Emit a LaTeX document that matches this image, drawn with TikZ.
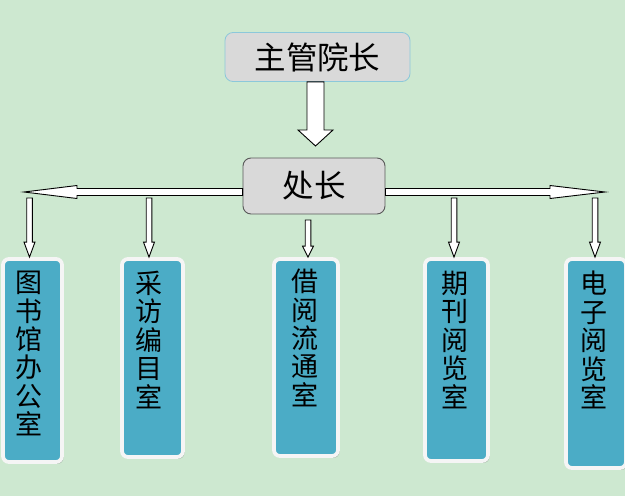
\documentclass[tikz,border=0pt]{standalone}
\usepackage{fontspec}
\newfontfamily\cjk{Noto Sans CJK SC}
\usetikzlibrary{calc,shadows}
\definecolor{bgc}{RGB}{205,232,208}
\definecolor{greyfill}{RGB}{217,217,217}
\definecolor{topborder}{RGB}{140,200,218}
\definecolor{chuborder}{RGB}{89,89,89}
\definecolor{aqua}{RGB}{75,172,198}
\definecolor{whiteborder}{RGB}{245,245,245}
\newcommand\blockarrow[5]{%
  \coordinate (bah) at ($(#2)!#5!(#1)$);
  \draw[arrowbody] ($(#1)!#3!90:(#2)$) -- ($(bah)!#3!90:(#2)$) -- ($(bah)!#4!90:(#2)$)
    -- (#2) -- ($(bah)!#4!-90:(#2)$) -- ($(bah)!#3!-90:(#2)$) -- ($(#1)!#3!-90:(#2)$) -- cycle;}
\begin{document}
\begin{tikzpicture}[x=1pt,y=-1pt,
  arrowbody/.style={fill=white,draw=black,line width=0.9pt,line join=miter},
  topbox/.style={draw=topborder,fill=greyfill,line width=0.8pt,rounded corners=8pt,
    minimum width=185pt,minimum height=49pt,inner sep=0pt,font=\cjk\fontsize{31.5}{34}\selectfont},
  chubox/.style={draw=chuborder,fill=greyfill,line width=0.9pt,rounded corners=8pt,
    minimum width=142pt,minimum height=56pt,inner sep=0pt,font=\cjk\fontsize{31.5}{34}\selectfont},
  deptbox/.style={draw=whiteborder,fill=aqua,line width=3.8pt,rounded corners=6pt,inner sep=0pt,
    drop shadow={shadow xshift=1.5pt,shadow yshift=-1.8pt,fill=black,opacity=0.25}},
  depttext/.style={anchor=north,align=center,inner sep=0pt,font=\cjk\fontsize{27}{28.4}\selectfont}]
\useasboundingbox (0,0) rectangle (625,496);
\fill[bgc] (0,0) rectangle (625,496);

% department boxes
\node[deptbox,minimum width=59pt,minimum height=203pt] (b1) at (32.5,360.5) {};
\node[deptbox,minimum width=61pt,minimum height=198pt] (b2) at (152.5,358) {};
\node[deptbox,minimum width=64pt,minimum height=197pt] (b3) at (306,357.5) {};
\node[deptbox,minimum width=63pt,minimum height=202pt] (b4) at (456.5,360) {};
\node[deptbox,minimum width=60pt,minimum height=209pt] (b5) at (596,363.5) {};

\node[depttext] (t1) at (29.5,271) {图\\书\\馆\\办\\公\\室};
\node[depttext] (t2) at (149,271) {采\\访\\编\\目\\室};
\node[depttext] (t3) at (305,269) {借\\阅\\流\\通\\室};
\node[depttext] (t4) at (454.5,271) {期\\刊\\阅\\览\\室};
\node[depttext] (t5) at (593.5,271) {电\\子\\阅\\览\\室};

% top boxes
\node[topbox] (top) at (317.5,57) {主管院长};
\node[chubox] (chu) at (314,186) {处长};

% main down arrow
\coordinate (dtip) at (315.5,146);
\coordinate (dstart) at (top.south -| dtip);
\blockarrow{dstart}{dtip}{8.5pt}{17.5pt}{16pt}

% horizontal arrows
\coordinate (lstart) at ($(chu.west)+(0,6)$);
\coordinate (ltip) at (24,192);
\blockarrow{lstart}{ltip}{3.5pt}{6.5pt}{53pt}
\coordinate (rstart) at ($(chu.east)+(0,6)$);
\coordinate (rtip) at (605,192);
\blockarrow{rstart}{rtip}{3.5pt}{6.5pt}{55pt}

% small down arrows
\coordinate (s1) at (29.5,198);
\coordinate (s2) at (149,198);
\coordinate (s3) at (308,220);
\coordinate (s4) at (454,198);
\coordinate (s5) at (595,198);
\coordinate (e1) at (s1 |- b1.north);
\coordinate (e2) at (s2 |- b2.north);
\coordinate (e3) at (s3 |- b3.north);
\coordinate (e4) at (s4 |- b4.north);
\coordinate (e5) at (s5 |- b5.north);
\blockarrow{s1}{e1}{2.8pt}{5.5pt}{15pt}
\blockarrow{s2}{e2}{2.8pt}{5.5pt}{15pt}
\blockarrow{s3}{e3}{2.8pt}{5.5pt}{11pt}
\blockarrow{s4}{e4}{2.8pt}{5.5pt}{15pt}
\blockarrow{s5}{e5}{2.8pt}{5.5pt}{15pt}
\end{tikzpicture}
\end{document}
